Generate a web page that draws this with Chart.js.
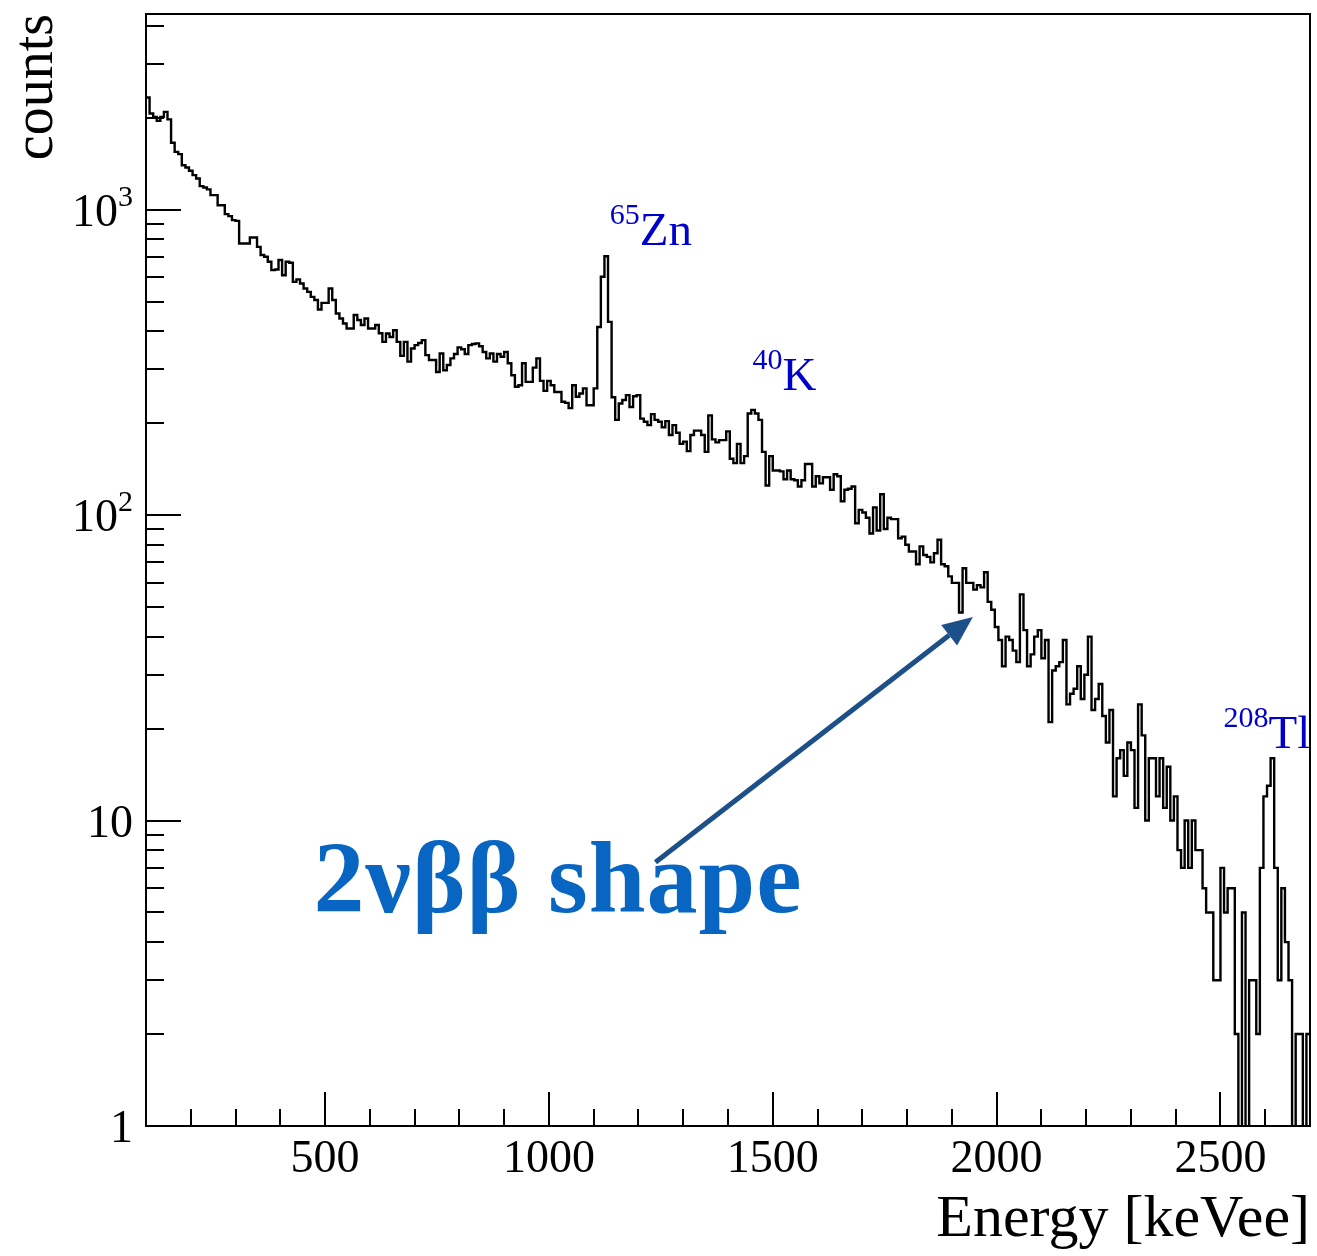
<!DOCTYPE html>
<html>
<head>
<meta charset="utf-8">
<title>Energy spectrum</title>
<script src="https://cdn.jsdelivr.net/npm/chart.js@4.4.1/dist/chart.umd.min.js"></script>
<style>
    html, body { margin: 0; padding: 0; background: #fff; }
    #wrap { width: 1317px; height: 1256px; }
</style>
</head>
<body>
<div id="wrap"><canvas id="myChart" width="1317" height="1256"></canvas></div>
<script>
// Energy spectrum histogram, 8 keV bins from 100 to 2700 keVee, log y axis (ROOT look).

const binStart = 100;
const binWidth = 8;

// counts per bin
const counts = [
    2329, 2065, 2013, 1953, 2013, 2090, 1974, 1655, 1546, 1520,
    1398, 1374, 1340, 1297, 1265, 1194, 1182, 1165, 1116, 1116,
    1034, 1034, 967, 952, 924, 919, 775, 775, 775, 811,
    811, 755, 710, 701, 675, 634, 637, 684, 610, 675,
    670, 580, 591, 573, 552, 538, 518, 506, 471, 495,
    495, 552, 506, 457, 440, 424, 408, 408, 452, 435,
    419, 440, 408, 408, 419, 394, 369, 393, 383, 403,
    369, 332, 369, 318, 351, 360, 366, 374, 334, 322,
    322, 294, 338, 298, 310, 326, 337, 354, 349, 337,
    360, 363, 365, 357, 342, 326, 338, 318, 337, 330,
    342, 314, 287, 263, 266, 314, 273, 273, 304, 326,
    275, 255, 275, 266, 253, 253, 235, 233, 224, 266,
    244, 250, 260, 229, 229, 260, 413, 603, 704, 429,
    243, 205, 232, 238, 247, 226, 245, 247, 207, 202,
    197, 214, 205, 202, 194, 203, 183, 197, 186, 171,
    174, 162, 183, 189, 189, 183, 161, 212, 177, 173,
    176, 176, 188, 153, 148, 171, 148, 156, 215, 221,
    215, 205, 161, 125, 156, 140, 140, 139, 131, 140,
    131, 130, 124, 130, 147, 147, 124, 134, 127, 133,
    133, 121, 136, 134, 111, 121, 122, 124, 94, 104,
    102, 98, 87, 106, 89, 117, 90, 98, 97, 97,
    84, 85, 80, 76, 76, 69, 79, 74, 73, 70,
    75, 83, 69, 68, 63, 60, 60, 48, 67, 60,
    60, 57, 59, 58, 65, 52, 49, 43, 39, 32,
    40, 39, 36, 33, 55, 42, 32, 35, 40, 42,
    34, 39, 21, 31, 32, 33, 39, 24, 26, 27,
    32, 25, 30, 40, 23, 25, 28, 22, 18, 23,
    12, 16, 17, 14, 18, 17, 11, 24, 19, 10,
    16, 16, 12, 16, 11, 15, 10, 12, 8, 7,
    10, 7, 10, 8, 8, 6, 5, 5, 3, 3,
    7, 5, 6, 6, 2, 0, 5, 0, 3, 3,
    2, 7, 12, 13, 16, 7, 3, 6, 4, 3,
    0, 2, 2, 0, 2
];

const xTickValues = [500, 1000, 1500, 2000, 2500];
const yTickValues = [1, 10, 100, 1000];
const yTickBase = ["1", "10", "10", "10"];
const yTickExp = ["", "", "2", "3"];

// peak labels
const isotopeMass = ["65", "40", "208"];
const isotopeName = ["Zn", "K", "Tl"];

const serif = "'Liberation Serif', 'Times New Roman', serif";

// label anchors in data units (energy, counts)
const isotopeAnchor = [[1136, 765], [1455, 257], [2507, 17.3]];
const shapeAnchor = [474, 5];
const arrowFrom = [1238, 7.3];
const arrowTo = [1947, 46.4];

// frame, inward ticks and y labels with exponents, like a ROOT canvas
const rootFrame = {
    id: "rootFrame",
    afterDatasetsDraw(chart) {
        const { ctx, chartArea: a, scales: { x, y } } = chart;
        ctx.save();
        ctx.strokeStyle = "#000";
        ctx.lineWidth = 2;
        ctx.beginPath();
        for (let d = 1; d <= y.max; d *= 10) {
            for (let m = 1; m < 10; m++) {
                const v = d * m;
                if (v > y.max) break;
                const py = Math.round(y.getPixelForValue(v));
                ctx.moveTo(a.left, py);
                ctx.lineTo(a.left + (m === 1 ? 35 : 18), py);
            }
        }
        for (let v = 200; v < x.max; v += 100) {
            const px = Math.round(x.getPixelForValue(v));
            ctx.moveTo(px, a.bottom);
            ctx.lineTo(px, a.bottom - (v % 500 === 0 ? 34 : 17));
        }
        ctx.stroke();
        ctx.strokeRect(a.left, a.top, a.right - a.left, a.bottom - a.top);

        ctx.fillStyle = "#000";
        ctx.textAlign = "right";
        ctx.textBaseline = "alphabetic";
        const right = a.left - 13;
        yTickValues.forEach((v, i) => {
            const base = y.getPixelForValue(v) + 16;
            ctx.font = "30px " + serif;
            const ew = yTickExp[i] ? ctx.measureText(yTickExp[i]).width : 0;
            if (ew) ctx.fillText(yTickExp[i], right, base - 20);
            ctx.font = "46px " + serif;
            ctx.fillText(yTickBase[i], right - ew, base);
        });
        ctx.restore();
    }
};

const annotations = {
    id: "annotations",
    afterDraw(chart) {
        const { ctx, scales: { x, y } } = chart;
        ctx.save();
        ctx.textBaseline = "alphabetic";
        ctx.textAlign = "left";

        // isotope labels
        ctx.fillStyle = "#0000cc";
        isotopeName.forEach((name, i) => {
            const px = x.getPixelForValue(isotopeAnchor[i][0]);
            const py = y.getPixelForValue(isotopeAnchor[i][1]);
            ctx.font = "30px " + serif;
            ctx.fillText(isotopeMass[i], px, py - 21);
            const w = ctx.measureText(isotopeMass[i]).width;
            ctx.font = "47px " + serif;
            ctx.fillText(name, px + w, py);
        });

        // arrow to the spectrum
        const tx = x.getPixelForValue(arrowFrom[0]);
        const ty = y.getPixelForValue(arrowFrom[1]);
        const hx = x.getPixelForValue(arrowTo[0]);
        const hy = y.getPixelForValue(arrowTo[1]);
        const ang = Math.atan2(hy - ty, hx - tx);
        const headLen = 30, headW = 13;
        const bx = hx - headLen * Math.cos(ang);
        const by = hy - headLen * Math.sin(ang);
        ctx.strokeStyle = "#1d4f88";
        ctx.fillStyle = "#1d4f88";
        ctx.lineWidth = 5;
        ctx.beginPath();
        ctx.moveTo(tx, ty);
        ctx.lineTo(bx, by);
        ctx.stroke();
        ctx.beginPath();
        ctx.moveTo(hx, hy);
        ctx.lineTo(bx - headW * Math.sin(ang), by + headW * Math.cos(ang));
        ctx.lineTo(bx + headW * Math.sin(ang), by - headW * Math.cos(ang));
        ctx.closePath();
        ctx.fill();

        ctx.fillStyle = "#0866c2";
        ctx.font = "bold 102px " + serif;
        ctx.letterSpacing = "1px";
        ctx.fillText("2\u03BD\u03B2\u03B2 shape",
            x.getPixelForValue(shapeAnchor[0]), y.getPixelForValue(shapeAnchor[1]));
        ctx.restore();
    }
};

chartData();

function chartData() {
    const points = counts.map((c, i) => ({
        x: binStart + i * binWidth,
        // empty bins fall below the axis, the way ROOT draws them
        y: c > 0 ? c : 0.5
    }));
    points.push({ x: binStart + counts.length * binWidth, y: points[points.length - 1].y });

    const ctx = document.getElementById("myChart");

    new Chart(ctx, {
        type: "line",
        data: {
            datasets: [{
                data: points,
                borderColor: "#000",
                borderWidth: 2.4,
                pointRadius: 0,
                stepped: "before",
                fill: false
            }]
        },
        options: {
            responsive: false,
            animation: false,
            layout: { padding: { top: 14, right: 7, left: 0, bottom: 0 } },
            plugins: {
                legend: { display: false },
                tooltip: { enabled: false }
            },
            scales: {
                x: {
                    type: "linear",
                    min: 100,
                    max: 2700,
                    grid: { display: false, drawTicks: false },
                    border: { display: false },
                    afterBuildTicks: s => { s.ticks = xTickValues.map(v => ({ value: v })); },
                    afterFit: s => { s.height = 130; },
                    ticks: {
                        color: "#000",
                        font: { family: serif, size: 46 },
                        padding: 6,
                        maxRotation: 0,
                        autoSkip: false,
                        callback: v => String(v)
                    },
                    title: {
                        display: true,
                        text: "Energy [keVee]",
                        align: "end",
                        color: "#000",
                        font: { family: serif, size: 60 },
                        padding: 0
                    }
                },
                y: {
                    type: "logarithmic",
                    min: 1,
                    max: 4370,
                    grid: { display: false, drawTicks: false },
                    border: { display: false },
                    afterBuildTicks: s => { s.ticks = yTickValues.map(v => ({ value: v })); },
                    afterFit: s => {
                        s.width = 146;
                        s.paddingTop = 0;
                        s.paddingBottom = 0;
                    },
                    ticks: { display: false },
                    title: {
                        display: true,
                        text: "counts",
                        align: "end",
                        color: "#000",
                        font: { family: serif, size: 56 },
                        padding: { top: 4, bottom: 0 }
                    }
                }
            }
        },
        plugins: [rootFrame, annotations]
    });
}
</script>
</body>
</html>
